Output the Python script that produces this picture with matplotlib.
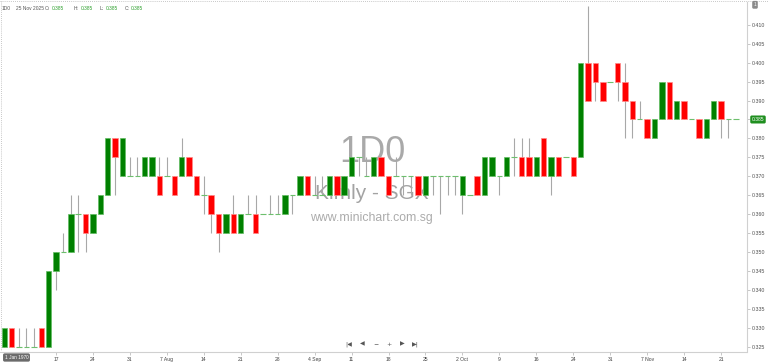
import matplotlib
matplotlib.use("Agg")
import matplotlib.pyplot as plt
import numpy as np
from matplotlib.ticker import FormatStrFormatter
from matplotlib.lines import Line2D

# ---------------- data (Kimly - SGX, daily) ----------------
opens = [0.325, 0.330, 0.325, 0.325, 0.325, 0.330, 0.325, 0.345, 0.350, 0.350,
         0.360, 0.360, 0.355, 0.360, 0.365, 0.380, 0.370, 0.370, 0.370, 0.370,
         0.370, 0.370, 0.370, 0.370, 0.370, 0.375, 0.370, 0.365, 0.365, 0.360,
         0.355, 0.360, 0.355, 0.360, 0.360, 0.360, 0.360, 0.360, 0.360, 0.365,
         0.365, 0.370, 0.365, 0.365, 0.365, 0.370, 0.365, 0.370, 0.375, 0.370,
         0.370, 0.375, 0.370, 0.370, 0.370, 0.370, 0.370, 0.365, 0.370, 0.370,
         0.370, 0.370, 0.365, 0.365, 0.370, 0.365, 0.370, 0.370, 0.370, 0.375,
         0.375, 0.375, 0.370, 0.380, 0.370, 0.375, 0.375, 0.375, 0.375, 0.400,
         0.400, 0.395, 0.395, 0.400, 0.395, 0.390, 0.385, 0.385, 0.380, 0.385,
         0.395, 0.385, 0.390, 0.385, 0.385, 0.380, 0.385, 0.390, 0.385, 0.385]
highs = [0.330, 0.330, 0.330, 0.330, 0.330, 0.330, 0.345, 0.350, 0.355, 0.365,
         0.365, 0.360, 0.360, 0.365, 0.380, 0.380, 0.380, 0.375, 0.375, 0.375,
         0.375, 0.375, 0.375, 0.370, 0.380, 0.375, 0.370, 0.370, 0.365, 0.360,
         0.360, 0.365, 0.360, 0.365, 0.365, 0.360, 0.365, 0.365, 0.365, 0.365,
         0.370, 0.370, 0.370, 0.370, 0.370, 0.370, 0.370, 0.375, 0.375, 0.375,
         0.375, 0.375, 0.370, 0.375, 0.370, 0.370, 0.370, 0.370, 0.370, 0.370,
         0.370, 0.370, 0.370, 0.365, 0.370, 0.375, 0.375, 0.370, 0.375, 0.380,
         0.380, 0.380, 0.375, 0.380, 0.375, 0.375, 0.375, 0.375, 0.400, 0.415,
         0.400, 0.395, 0.395, 0.400, 0.400, 0.390, 0.390, 0.385, 0.385, 0.395,
         0.395, 0.390, 0.390, 0.385, 0.385, 0.385, 0.390, 0.390, 0.385, 0.385]
lows = [0.325, 0.325, 0.325, 0.325, 0.325, 0.325, 0.325, 0.340, 0.350, 0.350,
        0.350, 0.350, 0.355, 0.360, 0.365, 0.365, 0.370, 0.370, 0.370, 0.370,
        0.370, 0.365, 0.370, 0.365, 0.370, 0.370, 0.365, 0.360, 0.355, 0.350,
        0.355, 0.355, 0.355, 0.360, 0.355, 0.360, 0.360, 0.360, 0.360, 0.360,
        0.365, 0.365, 0.365, 0.365, 0.365, 0.365, 0.365, 0.370, 0.370, 0.370,
        0.370, 0.370, 0.365, 0.370, 0.365, 0.365, 0.365, 0.365, 0.365, 0.360,
        0.365, 0.365, 0.360, 0.365, 0.365, 0.365, 0.370, 0.365, 0.370, 0.370,
        0.370, 0.370, 0.370, 0.370, 0.365, 0.370, 0.375, 0.370, 0.375, 0.390,
        0.390, 0.390, 0.395, 0.390, 0.380, 0.380, 0.385, 0.380, 0.380, 0.385,
        0.385, 0.385, 0.385, 0.385, 0.380, 0.380, 0.385, 0.380, 0.380, 0.385]
closes = [0.330, 0.325, 0.325, 0.325, 0.325, 0.325, 0.345, 0.350, 0.350, 0.360,
          0.360, 0.355, 0.360, 0.365, 0.380, 0.375, 0.380, 0.370, 0.370, 0.375,
          0.375, 0.365, 0.370, 0.365, 0.375, 0.370, 0.365, 0.365, 0.360, 0.355,
          0.360, 0.355, 0.360, 0.360, 0.355, 0.360, 0.360, 0.360, 0.365, 0.365,
          0.370, 0.365, 0.365, 0.365, 0.370, 0.365, 0.370, 0.375, 0.375, 0.370,
          0.375, 0.370, 0.365, 0.370, 0.370, 0.370, 0.365, 0.370, 0.370, 0.370,
          0.370, 0.370, 0.370, 0.365, 0.365, 0.375, 0.375, 0.370, 0.375, 0.375,
          0.370, 0.370, 0.375, 0.370, 0.375, 0.370, 0.375, 0.370, 0.400, 0.390,
          0.395, 0.390, 0.395, 0.395, 0.390, 0.385, 0.385, 0.380, 0.385, 0.395,
          0.385, 0.390, 0.385, 0.385, 0.380, 0.385, 0.390, 0.385, 0.385, 0.385]
tick_labels = ["17", "24", "31", "7 Aug", "14", "21", "28", "4 Sep", "11", "18",
               "25", "2 Oct", "9", "16", "24", "31", "7 Nov", "14", "21"]
header_date = "25 Nov 2025"
last_ohlc = ["0.385", "0.385", "0.385", "0.385"]
last_price = 0.385

W, H = 768, 363
fig = plt.figure(figsize=(W / 100, H / 100), dpi=100)
fig.patch.set_facecolor("white")

def fx(px):
    return px / W

def fy(py):
    return 1 - py / H

ax = fig.add_axes([0, fy(351.5), fx(746.5), (351.5 - 1.5) / H])

o = np.array(opens)
hi = np.array(highs)
lo = np.array(lows)
c = np.array(closes)
x = np.arange(len(o))
up = c > o + 1e-9
down = c < o - 1e-9
flat = ~(up | down)
bw = 0.74

ax.vlines(x, lo, hi, color="#a8a8a8", lw=0.8, zorder=2)
ax.bar(x[up], (c - o)[up], bottom=o[up], width=bw, color="#008000",
       edgecolor="#62bd62", lw=0.5, zorder=3)
ax.bar(x[down], (o - c)[down], bottom=c[down], width=bw, color="#ff0000",
       edgecolor="#ff8a8a", lw=0.5, zorder=3)
ax.hlines(c[flat], x[flat] - bw / 2, x[flat] + bw / 2, color="#6dbf6d",
          lw=0.8, zorder=3)

ax.set_xlim(-4.3 / 7.389, (746.5 - 4.3) / 7.389)
ax.set_ylim(0.32373, 0.41616)

for s in ("top", "left"):
    ax.spines[s].set_visible(False)
for s in ("right", "bottom"):
    ax.spines[s].set_color("#d0d0d0")
    ax.spines[s].set_linewidth(0.8)

ax.yaxis.tick_right()
ax.set_yticks(np.arange(0.325, 0.4126, 0.005))
ax.yaxis.set_major_formatter(FormatStrFormatter("%.3f"))
ax.tick_params(axis="y", length=2, width=0.5, color="#b0b0b0", pad=1.5,
               labelsize=3.8, labelcolor="#505050")
for t in ax.get_yticklabels():
    t.set_family("Liberation Sans")

tick_pos = x[7::5][:len(tick_labels)]
ax.set_xticks(tick_pos)
ax.set_xticklabels(tick_labels, family="Liberation Sans")
ax.tick_params(axis="x", length=2, width=0.5, color="#b0b0b0", pad=1.8,
               labelsize=3.6, labelcolor="#404040")

# watermarks (behind the candles)
fig.text(fx(372), fy(152.5), "1D0", fontsize=26, color="#a9a9a9",
         family="Liberation Sans", ha="center", va="center", zorder=0)
fig.text(fx(371.5), fy(193), "Kimly - SGX", fontsize=15, color="#a3a3a3",
         family="Liberation Sans", ha="center", va="center", zorder=0)
fig.text(fx(371.5), fy(217.5), "www.minichart.com.sg", fontsize=8.8,
         color="#ababab", family="Liberation Sans", ha="center", va="center",
         zorder=0)
ax.set_zorder(1)
ax.patch.set_alpha(0)

# header
hdr_y = fy(8)
hf = dict(fontsize=3.5, family="Liberation Sans", va="center", ha="left")
fig.text(fx(2), hdr_y, "1D0", color="#555555", **hf)
fig.text(fx(16), hdr_y, header_date, color="#555555", **hf)
for lab, px_l, px_v, val in zip(["O:", "H:", "L:", "C:"], [45, 74, 100, 125],
                                [52, 81, 106, 131], last_ohlc):
    fig.text(fx(px_l), hdr_y, lab, color="#555555", **hf)
    fig.text(fx(px_v), hdr_y, val, color="#2ea02e", **hf)

# navigation buttons
nav = ["|◀", "◀", "−", "+", "▶", "▶|"]
for px, s in zip([349, 362.7, 376, 389.3, 402.7, 415.7], nav):
    fig.text(fx(px), fy(344), s, fontsize=4.4, color="#555555",
             family="DejaVu Sans", ha="center", va="center")

# bottom-left crosshair date box
fig.text(fx(16.5), fy(357.5), "1 Jan 1970", fontsize=3.4, color="white",
         family="Liberation Sans", ha="center", va="center",
         bbox=dict(boxstyle="round,pad=0.35", fc="#6b6b6b", ec="none"))

# top-right button
fig.text(fx(755), fy(4.8), "1", fontsize=3.4, color="white",
         family="Liberation Sans", ha="center", va="center",
         bbox=dict(boxstyle="round,pad=0.3", fc="#8a8a8a", ec="none"))

# last price label
ypix = ax.transData.transform((0, last_price))[1]
fig.text(fx(758), ypix / H, "%.3f" % last_price,
         fontsize=3.6, color="white", family="Liberation Sans",
         ha="center", va="center",
         bbox=dict(boxstyle="round,pad=0.3", fc="#1f8f1f", ec="none"))

# dotted outer borders
fig.add_artist(Line2D([0, 1], [fy(1), fy(1)], transform=fig.transFigure,
                      color="#b5b5b5", lw=0.6, ls=(0, (1, 1.5))))
fig.add_artist(Line2D([fx(1), fx(1)], [fy(1), fy(351)],
                      transform=fig.transFigure, color="#b5b5b5", lw=0.6,
                      ls=(0, (1, 1.5))))

fig.savefig("out.png", dpi=100, facecolor="white")
